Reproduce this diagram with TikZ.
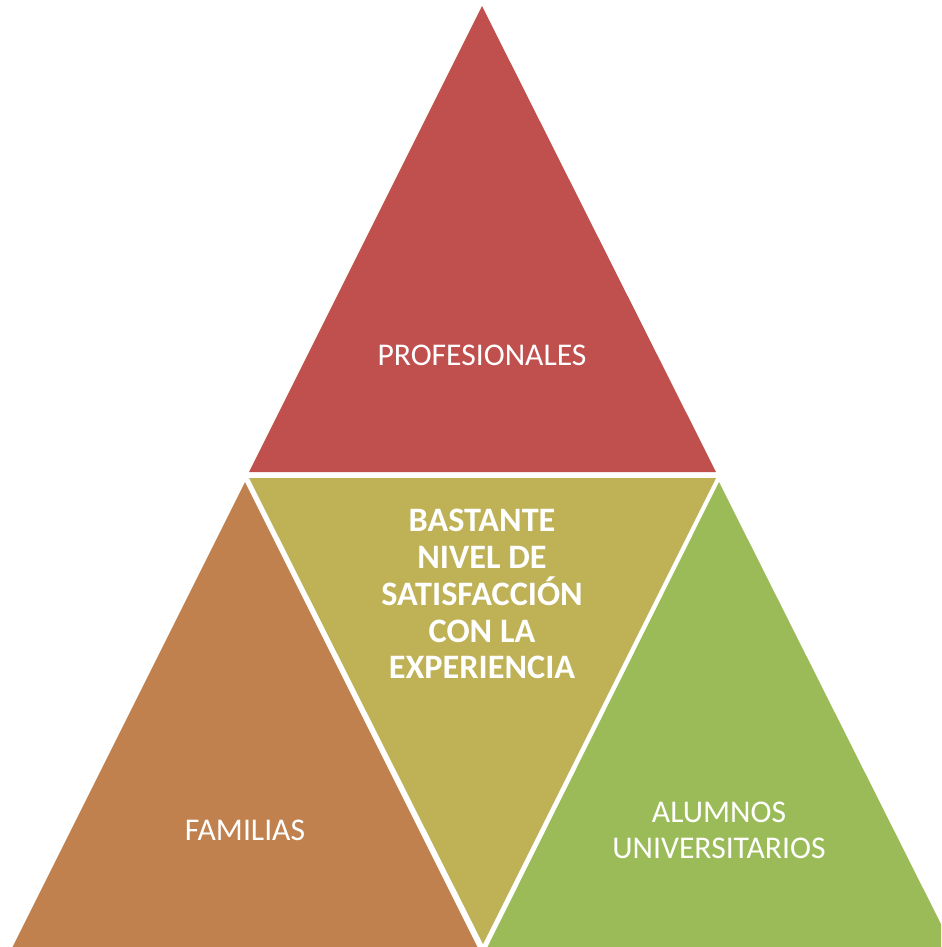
\documentclass[tikz,border=0pt]{standalone}
\definecolor{TopRed}{RGB}{192,80,77}
\definecolor{MidOlive}{RGB}{190,177,86}
\definecolor{LeftOrange}{RGB}{192,129,78}
\definecolor{RightGreen}{RGB}{155,187,89}
\usepackage{fontspec}
\setmainfont{Carlito}
\usepackage{tikz}
\usetikzlibrary{positioning}

\begin{document}
\begin{tikzpicture}[x=0.02cm, y=-0.02cm,
	label/.style={text=white, align=center, font=\fontsize{18}{20.5}\selectfont},
	core/.style={label, font=\fontsize{19.5}{21}\selectfont\bfseries}]
	\useasboundingbox (0,0) rectangle (941,947);
	\clip (0,0) rectangle (941,947);
	\fill[TopRed] (482,6) -- (716,472) -- (249,472) -- cycle;
	\fill[MidOlive] (249,478) -- (716,478) -- (483,944) -- cycle;
	\fill[LeftOrange] (245,482) -- (478,948) -- (12,948) -- cycle;
	\fill[RightGreen] (719,482) -- (953,948) -- (487,948) -- cycle;
	\node[label] (prof) at (482,355) {PROFESIONALES};
	\node[core] (sat) at (482,594) {BASTANTE\\NIVEL DE\\SATISFACCI\'ON\\CON LA\\EXPERIENCIA};
	\node[label] (fam) at (245,830) {FAMILIAS};
	\node[label] (alum) at (719,830) {ALUMNOS\\UNIVERSITARIOS};
\end{tikzpicture}
\end{document}
